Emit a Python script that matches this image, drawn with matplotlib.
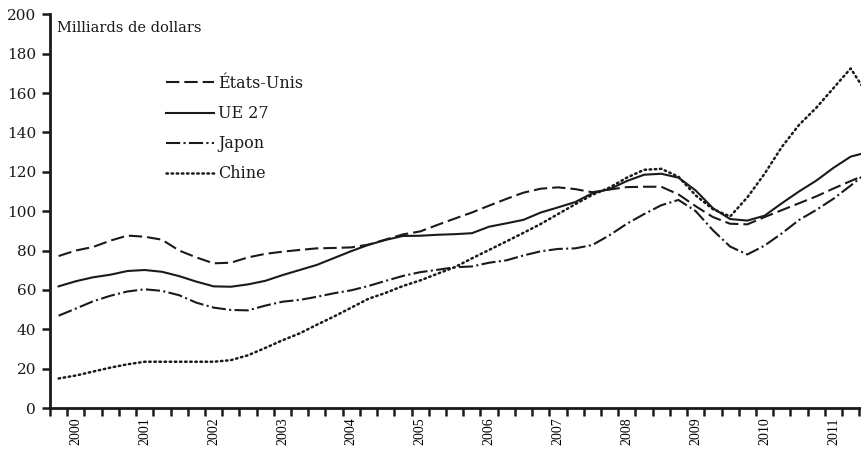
import matplotlib
matplotlib.use("Agg")
import matplotlib.pyplot as plt
import numpy as np

plt.rcParams['font.family'] = ['DejaVu Serif', 'Liberation Serif']

# Quarterly data (index 0 = first quarter shown)
years = [str(y) for y in range(2000, 2012)]
etats_unis = [77.2, 80, 81.8, 85, 87.6, 87, 85.5, 80, 76.5, 73.5, 73.8, 76.5,
              78.3, 79.4, 80.3, 81.1, 81.3, 81.6, 83, 85.6, 88.2, 89.7, 93, 96.2,
              99.3, 102.8, 106.2, 109.4, 111.4, 112.1, 111.2, 109.6, 111, 112.2, 112.4, 112.4,
              108.5, 102.5, 97, 93.6, 93.3, 97, 100.5, 104, 107.5, 111.5, 115.3, 119]
ue27 = [61.8, 64.4, 66.4, 67.7, 69.6, 70.1, 69.2, 67, 64.2, 61.8, 61.6, 62.8,
        64.6, 67.5, 70.1, 72.7, 76.2, 79.7, 82.9, 85.4, 87.4, 87.5, 88, 88.3,
        88.8, 92.1, 93.8, 95.6, 99.3, 101.9, 104.6, 109.1, 111.2, 115.3, 118.5, 119,
        117, 110.5, 101.5, 96, 95.2, 97.7, 104, 110, 115.5, 122, 127.7, 130]
japon = [46.9, 50.5, 54.2, 57, 59.2, 60.3, 59.5, 57.3, 53.5, 51, 49.8, 49.6,
         52, 54, 54.9, 56.5, 58.3, 59.8, 62, 64.6, 67.1, 69, 70.2, 71.5,
         71.9, 73.8, 75, 77.5, 79.6, 80.8, 81.1, 82.8, 87.8, 93.6, 98.5, 103,
         105.7, 100, 90.3, 82, 78, 82.5, 88.7, 95.5, 100.6, 106.3, 113, 120]
chine = [15, 16.5, 18.5, 20.5, 22.2, 23.5, 23.5, 23.5, 23.5, 23.5, 24.3, 26.8,
         30.5, 34.4, 37.9, 42.3, 46.5, 51, 55.5, 58.5, 62, 64.8, 68.2, 71.5,
         76, 80.3, 84.6, 89, 93.5, 98.5, 103.5, 108.3, 112, 117, 121, 121.5,
         117.5, 108, 101, 97.3, 107, 119, 132.6, 143.8, 152.5, 162.5, 172.5, 159]

series = [
    ("États-Unis", etats_unis, dict(lw=1.5, linestyle=(0, (6.4, 2.4)), dash_capstyle='butt')),
    ("UE 27", ue27, dict(lw=1.5, linestyle='-')),
    ("Japon", japon, dict(lw=1.5, linestyle=(0, (6.8, 1.6, 1.0, 1.6)), dash_capstyle='butt')),
    ("Chine", chine, dict(lw=1.8, linestyle=(0, (0.6, 1.45)), dash_capstyle='round')),
]

W, H = 861, 455
fig = plt.figure(figsize=(W / 100, H / 100), dpi=100)
ax = fig.add_axes([50 / W, 47 / H, 811 / W, 393.7 / H])

x = np.arange(len(etats_unis))
for label, vals, style in series:
    ax.plot(x, vals, color='#1a1a1a', label=label,
            solid_joinstyle='round', dash_joinstyle='round', **style)

ax.set_ylim(0, 200)
ax.set_xlim(-0.5, 46.6)
ax.set_yticks(np.arange(0, 201, 20))
ax.set_xticks(np.arange(-0.5, 47, 1))
ax.set_xticklabels([])
ax.set_xticks([1 + 4 * i for i in range(len(years))], minor=True)
ax.set_xticklabels(years, minor=True, rotation=90, fontsize=10,
                   family=['Liberation Serif', 'DejaVu Serif'])
ax.tick_params(axis='x', which='minor', length=0, pad=7)
ax.tick_params(axis='x', which='major', length=6, width=1.8, direction='out', color='#1a1a1a')
ax.tick_params(axis='y', length=6, width=1.8, direction='out', labelsize=11, pad=4,
               color='#1a1a1a', labelcolor='#1a1a1a')

for s in ['top', 'right']:
    ax.spines[s].set_visible(False)
for s in ['left', 'bottom']:
    ax.spines[s].set_linewidth(2)
    ax.spines[s].set_color('#1a1a1a')

ax.text(57 / W, 1 - 28 / H, "Milliards de dollars", transform=fig.transFigure,
        fontsize=10.5, va='center', ha='left', color='#1a1a1a')

leg = ax.legend(loc='upper left', bbox_to_anchor=(165.7 / W, 1 - 75 / H),
                bbox_transform=fig.transFigure, frameon=False, fontsize=11.5,
                handlelength=3.0, handletextpad=0.3, labelspacing=0.82,
                borderpad=0, borderaxespad=0)
for t in leg.get_texts():
    t.set_color('#1a1a1a')

fig.savefig("out.png", dpi=100)
